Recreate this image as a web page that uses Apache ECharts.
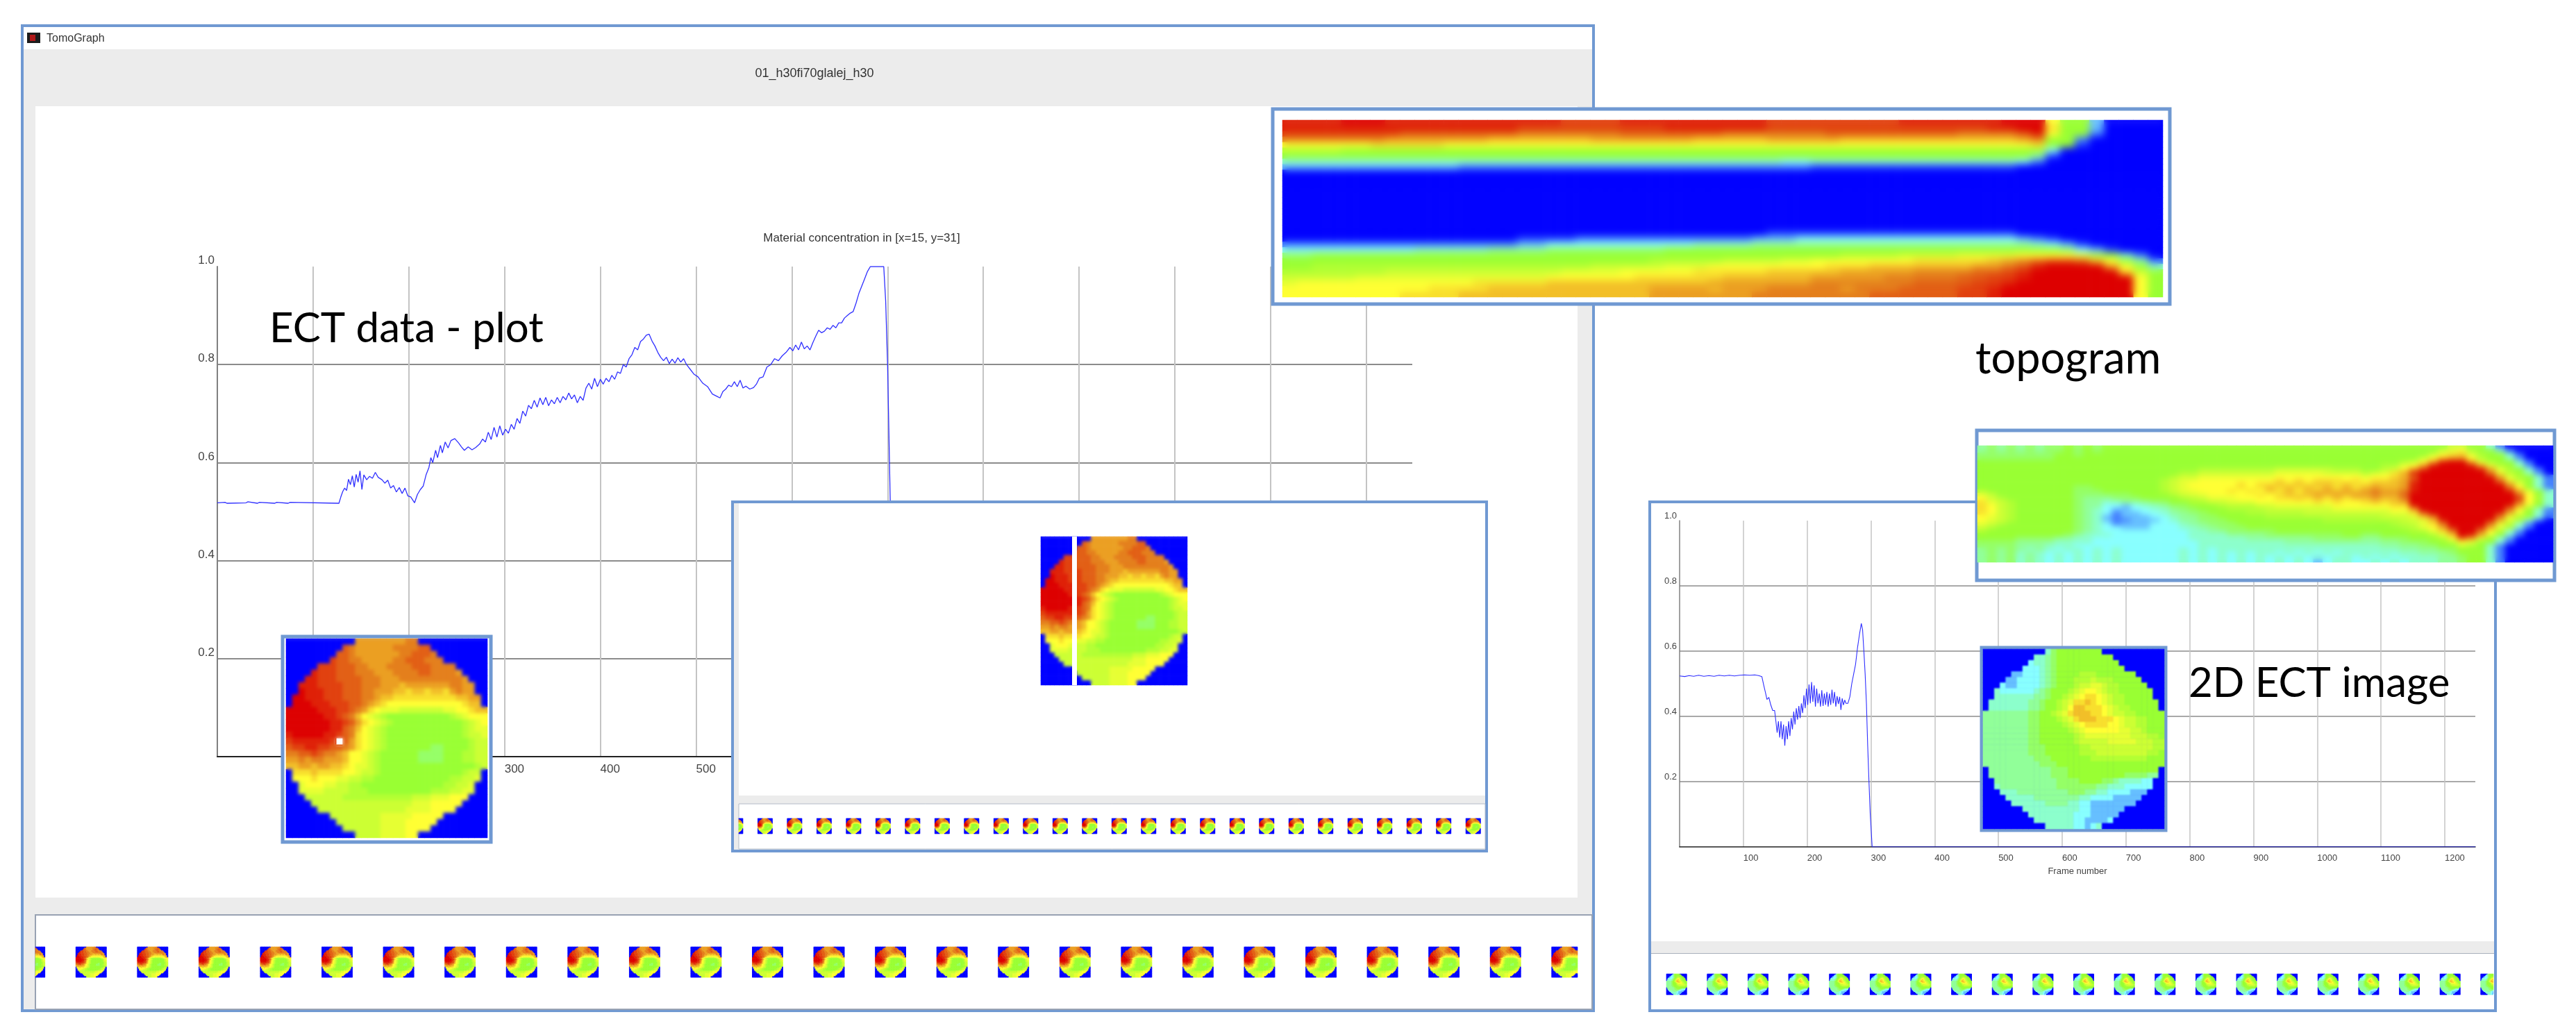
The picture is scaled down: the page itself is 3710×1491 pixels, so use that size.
<!DOCTYPE html>
<html>
<head>
<meta charset="utf-8">
<title>TomoGraph</title>
<style>
  html, body { margin: 0; padding: 0; background: #fff; }
  #main { width: 3710px; height: 1491px; }
  .soft { position: absolute; pointer-events: none; }
</style>
<script src="https://cdn.jsdelivr.net/npm/echarts@6/dist/echarts.min.js"></script>
</head>
<body>
<div id="main"></div>
<script>
// frame number / material concentration
var mainCurve = [[0,.518],[8,.519],[10,.517],[30,.518],[32,.52],[42,.517],[44,.519],[60,.517],[62,.519],[74,.517],[76,.519],[127,.517],
  [129,.53],[131,.541],[133,.548],[135,.543],[137,.566],[139,.555],[141,.573],[143,.55],[145,.576],[147,.56],[149,.583],[151,.545],[153,.575],[156,.565],[159,.572],[162,.568],[165,.58],[168,.57],[172,.565],[175,.558],[178,.564],[181,.548],[184,.553],[187,.54],[190,.549],[193,.537],[196,.548],[199,.532],[202,.53],[206,.518],
  [209,.535],[212,.545],[215,.552],[218,.575],[221,.59],[223,.61],[225,.6],[228,.625],[230,.61],[233,.635],[235,.62],[238,.642],[241,.63],[244,.645],[248,.649],[252,.64],[255,.632],[258,.625],[262,.632],[266,.626],[270,.631],[274,.638],[277,.648],[280,.642],[283,.662],[286,.647],[289,.672],[292,.652],[295,.675],[298,.656],[301,.668],[304,.66],[307,.678],[310,.668],[313,.69],[316,.68],[319,.705],[322,.695],[325,.717],[328,.71],[331,.727],[334,.713],[337,.732],[340,.718],[343,.733],[346,.716],[349,.728],[352,.72],[355,.733],[358,.722],[361,.735],[364,.728],[367,.742],[370,.73],[373,.738],[376,.722],[379,.735],[382,.727],[385,.752],[388,.762],[391,.75],[394,.772],[397,.755],[400,.77],[403,.76],[406,.772],[409,.765],[412,.778],[415,.77],[418,.785],[421,.782],[424,.8],[427,.795],[430,.812],[433,.82],[436,.835],[439,.83],[442,.847],[445,.852],[448,.86],[451,.862],[454,.848],[457,.838],[460,.825],[463,.815],[466,.808],[469,.815],[472,.802],[475,.811],[478,.803],[481,.814],[484,.805],[487,.812],[490,.8],[494,.79],[498,.78],[502,.775],[507,.762],[512,.755],[517,.74],[522,.735],[525,.732],[528,.745],[531,.75],[534,.758],[537,.755],[540,.765],[543,.755],[546,.768],[549,.752],[552,.756],[556,.75],[560,.753],[563,.76],[566,.772],[570,.775],[574,.795],[578,.8],[582,.812],[586,.808],[590,.818],[594,.825],[598,.835],[601,.828],[604,.84],[607,.83],[610,.846],[613,.832],[616,.838],[619,.83],[622,.845],[625,.858],[628,.87],[631,.865],[634,.868],[637,.875],[640,.872],[643,.88],[646,.875],[649,.885],[652,.885],[655,.895],[658,.9],[661,.905],[664,.908],[667,.925],[670,.945],[673,.96],[676,.975],[679,.99],[682,1],[696,1],[698,.93],[700,.8],[702,.6],[704,.4],[708,.1],[712,0],[1248,0]];

var sideCurve = [[0,.524],[8,.522],[15,.525],[22,.523],[30,.526],[38,.523],[46,.525],[54,.523],[62,.526],[70,.524],[78,.526],[86,.524],[94,.526],[102,.527],[110,.526],[118,.527],[124,.525],[129,.522],
  [132,.495],[135,.47],[137,.452],[140,.458],[143,.435],[146,.418],[149,.418],[151,.385],[153,.35],[155,.385],[157,.335],[159,.385],[161,.33],[163,.375],[165,.31],[167,.37],[169,.33],[171,.385],[173,.34],[175,.395],[177,.36],[179,.415],[181,.375],[183,.425],[185,.39],[187,.432],[189,.395],[191,.44],[193,.41],[195,.465],[197,.425],[199,.485],[201,.435],[203,.498],[205,.44],[207,.505],[209,.445],[211,.495],[213,.43],[215,.485],[217,.44],[219,.47],[221,.43],[223,.48],[225,.432],[227,.47],[229,.435],[231,.475],[233,.43],[235,.47],[237,.435],[239,.482],[241,.44],[243,.475],[245,.43],[247,.462],[249,.438],[251,.46],[253,.42],[255,.455],[257,.435],[259,.45],[261,.44],[264,.44],[267,.46],[270,.5],[273,.53],[276,.56],[279,.61],[282,.65],[285,.685],[287,.665],[289,.6],[291,.53],[293,.44],[295,.31],[297,.2],[299,.1],[302,0],[1248,0]];

var yTicks = [0.2, 0.4, 0.6, 0.8, 1.0];
var labels = {
  window: 'TomoGraph',
  file: '01_h30fi70glalej_h30',
  plotTitle: 'Material concentration in [x=15, y=31]',
  xName: 'Frame number',
  plotNote: 'ECT data - plot',
  topoNote: 'topogram',
  imageNote: '2D ECT image'
};

// colour map stops, levels run 0..20 written as 0-9a-k
var levelColors = ['#0000ff', '#88ffff', '#99ff33', '#ffff33', '#e47f1c', '#dd0000'];

// ECT images, 32 x 32, rows hold only the pixels inside the pipe circle
var diskA = [
  'ffffffffgg',
  'hgffffffgggghh',
  'hhgfffffffgghhhg',
  'ihhggfffffgghhhggg',
  'iiihhhggfffgggghhhgggg',
  'jiiihhhgggfffgggghhggggf',
  'jjiiihhhhgggfffggggggggggf',
  'jjjiiiihhhgggfffefffffffggff',
  'kjjjiiihhhggfffeedeedeedfgff',
  'kkjjjiiihhhggfeeddddddddddeeff',
  'kkkjjjiiihhgfedccccccccccccdee',
  'kkkkkjjjiihgfdcbbbaaaaaaabbccdee',
  'kkkkkkjjihgecba988888888889abccc',
  'kkkkkkkjjihfdcba9888888888889abc',
  'kkkkkkkjjhgecba98888888888889abb',
  'jkkkkkjjihgdcba98888888888889aab',
  'ijjjjjjiihfdcba988888888888889aa',
  'hiijjiihhgfdcba98888888778888 9aa',
  'gghhihggfeccba9888888777788899aa',
  'ffgfggfffeccba9888888777788899aa',
  'eeffeffeedcbba98888888888888889a',
  'dddeddddccbaa988888888888889aa',
  'cccdcccbbaa9988888888888899aab',
  'bcccbbaa99888888888888899aab',
  'bbbbaaaa9998888888888999aabb',
  'aaaaaa99999999999aaabbbccc',
  'aaaaaaaaaaaaaaaabbbccccc',
  'aaaaaaaaaaaaaabbbbcccc',
  'aaaaaaaabbbbbccccc',
  'aaaaaaabbbbccccc',
  'aaaaaabbbbcccc',
  'aaaabbbbcc'
];

var diskB = [
  '5788888888',
  '55678888888888',
  '4556788888888888',
  '444567888888888888',
  '3344456788889998888888',
  '334444567888999a99988888',
  '43344445678889aabba9988888',
  '54444445678889abccba99888888',
  '5555555667889abcddcba9988888',
  '5555555667889abddedcba99888888',
  '5555555667889aceedddcba9988888',
  '6666666677889abdeeeddcbaa9988888',
  '66666666778889abdeeedddcbaa99888',
  '666666667788889abcddddccbaa99888',
  '6666666677888889abccccccbbaa9888',
  '66666666778888889abbbbbbbbaaa998',
  '66666666778888889aaaaabbbbbaaa99',
  '6666666677788888899aaaaaaaaaaa99',
  '66666666777888888999aaaaaaaaa998',
  '66666666677788888889999999999888',
  '66666666667778888888888888888888',
  '666666666667778888888888888888',
  '666666666667778888888888777766',
  '6666666666677778888776555544',
  '5666666666677777776655544444',
  '55566666666677766554444333',
  '555556666666655444433333',
  '5555556666554433333333',
  '555555555544333333',
  '5555555544433333',
  '55555554433334',
  '5555544345'
];

// topograms: one image line per frame, 32 rows x 60 time steps
var topoA = [
  'jjjjkkkjjj jjjjjjjjji iiijjjjjjj jjjiiiiiii iijjjjjjjk kkc8830000',
  'jjjjjjjjjj jjjjjjiiii iiiiiijjjj jjjiiiiiii iiiiiiiijj kkd8830000',
  'iiiiiiiihh hhhhhhgggg ggghhhhhhh ggggggghhh hhhhhhgggg hjc8820000',
  'gggggggfff ffffeeeeee efffffffee eeefffffee eeeeeeeeee fg88200000',
  'ccccccdddd dccccccccc cccccccccc cccccccccc cccccccccc cd88100000',
  '9999888888 8888888888 8888888888 8888888888 8888888888 8840000000',
  '8888888888 8888888888 8888888888 8888888888 8888888888 8610000000',
  '5555555555 5555555555 5555555555 5555445555 5555555555 4200000000',
  '3333333333 3322222222 2222222222 2222221111 1111111111 0000000000',
  '0000000000 0000000000 0000000000 0000000000 0000000000 0000000000',
  '0000000000 0000000000 0000000000 0000000000 0000000000 0000000000',
  '0000000000 0000000000 0000000000 0000000000 0000000000 0000000000',
  '0000000000 0000000000 0000000000 0000000000 0000000000 0000000000',
  '0000000000 0000000000 0000000000 0000000000 0000000000 0000000000',
  '0000000000 0000000000 0000000000 0000000000 0000000000 0000000000',
  '0000000000 0000000000 0000000000 0000000000 0000000000 0000000000',
  '0000000000 0000000000 0000000000 0000000000 0000000000 0000000000',
  '0000000000 0000000000 0000000000 0000000000 0000000000 0000000000',
  '0000000000 0000000000 0000000000 0000000000 0000000000 0000000000',
  '0000000000 0000000000 0000000000 0000000000 0000000000 0000000000',
  '0000000000 0000000000 0000000000 0001111111 1111111111 0000000000',
  '0000000000 0000001111 2222222222 2233344444 4444444444 3210000000',
  '2222222222 2222223344 4444444455 5566666666 6666666666 6543100000',
  '4444444445 5555666677 7777778888 8888888888 8888888888 8887431000',
  '7788888888 8888888888 8888888888 8888888899 99aaaabbbb ccccb98520',
  '8888888888 8888888888 8888899999 aaaabbcccc cccdddddef ghiihec862',
  '8899999999 9999999999 9aaaaabbbc cccccccddd eeeeeeeffg hjkkkkfc85',
  '9999999aaa aaaaaaaaab bbbcccccdd dddeeeeeff fffgggghhi jkkkkkkda8',
  'aaaaabbbbb bbbbbbbbcc ccccdddddd eeeeeeffff fggggghhii jkkkkkkkc8',
  'bccccccccc cccdddddee eeeeeeeeef ffffffgggg ggghhhhiij kkkkkkkkc8',
  'cccccccccc ddddeeeeee eeeeeffffe fffgggggfg gghhhhiijk kkkkkkkkc8',
  'ccccccccdd ddeeeeeeee eeeeefffff ffgggggggg hhhhhhiijk kkkkkkkkc8'
];

var topoB = [
  '6767676778 7878888888 8888888888 8888888888 888888888a a885200000',
  '6767676778 7878888888 8888888888 8888888888 88888888ab c988520000',
  '7777777788 7888888888 8888888888 8888888888 8888888acd eb98852000',
  '7777777788 8888888888 8888888888 8888888888 888888acef fc98852000',
  '8888888888 8888888888 8888888888 8888888888 88889acfjk kfb9885200',
  '8888888888 8888888888 8888888888 8888888888 8899bcfjkk kjfb985200',
  '8888888888 8888888888 8889999999 9aaaaaa999 889acfikkk kkjfb98520',
  '8888888888 8888888888 899aaaaaaa abbbbbaaaa 9abdfjkkkk kkkgb98520',
  '8888888888 8888888888 9aabbbbbbb bccccccccc bccdehkkkk kkkjfb9852',
  '8888888888 8888888889 abbccccccc cdcdcdddcd cddefikkkk kkkkgb9852',
  '8888888888 8888888889 abcccccdcd dededeeded deeefjkkkk kkkkjfb852',
  '8888888888 7788888889 abcccccdcd ededededed efeefjkkkk kkkkkgc852',
  '9888888888 7778888889 abbcccdcdc ededeefefe fgffgjkkkk kkkkkjfb85',
  'ba88888888 7777778888 9abbcccccd cdedefefef fgffhkkkkk kkkkkkgc85',
  'ca98888888 7666777888 899abbbccc cddededede efeegkkkkk kkkkkkjc95',
  'dba9888888 7665566677 8899aabbbc cccccdcdcc dedefkkkkk kkkkkkgc85',
  'dca9888888 7664434556 778889999a abbbbbbccc cccddjkkkk kkkkkjfb85',
  'dca9888888 7654334455 6778889999 aaaaaaabbb bbbccfkkkk kkkkkgc852',
  'dca9888888 7654233445 6677888899 9999aaaaaa aaabbdhkkk kkkkjfb852',
  'cba9888888 7653233344 5667788888 9999999999 99aaabegkk kkkkgb9852',
  'cba9888888 7653223334 5667778888 8888889999 9999aabejk kkkjfb9520',
  'ba98888888 7654233344 4566777888 8888888888 88899abdgk kkkgb95200',
  'a988888888 7654433344 4556677788 8888888888 888899bcfj kkjfb95200',
  '9888888888 7654444444 4455667777 7888888888 8888899bdg kkgc952000',
  '8888888887 6555444444 4455556666 7777777788 77888889be kjfb852000',
  '8888777766 5544444444 4455555566 6666677777 667778889c hfb8520000',
  '7777666655 5544444444 4445555555 5566666666 6666777889 cb88520000',
  '7777666555 4444444444 4445555555 5555555555 5566667788 a985200000',
  '6767656545 5454544444 4545455555 5555555555 5555666677 8885200000',
  '6767565454 5454544444 4545454545 5454545455 5555556667 8885200000',
  '6767565454 5454544444 4545454545 4545454554 5454555566 7885200000',
  '6767565454 5454544444 4545454545 4545434554 4545455566 7885200000'
];

var markerCell = [8, 16]; // picked pixel of the large image

var frameBlue = '#7099d2';
var bandGrey = '#ececec';
var narrowFont = '"Liberation Sans Narrow", "Liberation Sans", sans-serif';
var noteFont = 'Lato, "Open Sans", sans-serif';

// level char -> number
function decodeRow(str) {
  return str.replace(/ /g, '').split('').map(function(c) { return parseInt(c, 36); });
}

// pad a disk row with blue corners
function diskMatrix(rows) {
  return rows.map(function(r) {
    var body = decodeRow(r);
    var left = Math.floor((32 - body.length) / 2);
    var row = [];
    for (var i = 0; i < 32; i++) {
      var v = body[i - left];
      row.push(v === undefined ? 0 : v);
    }
    return row;
  });
}

function range(n) {
  var a = [];
  for (var i = 0; i < n; i++) a.push(String(i));
  return a;
}

var grids = [], xAxes = [], yAxes = [], series = [], heatIndex = [];

function plotAxes(left, top, width, height, fontSize, lineW) {
  var idx = grids.length;
  grids.push({ left: left, top: top, width: width, height: height, z: 1 });
  xAxes.push({
    gridIndex: idx, type: 'value', min: 0, max: 1248, interval: 100, z: 1,
    name: labels.xName, nameLocation: 'middle', nameGap: fontSize + 16,
    nameTextStyle: { color: '#444', fontFamily: narrowFont, fontSize: fontSize },
    axisLine: { show: true, onZero: false, lineStyle: { color: '#222', width: lineW } },
    axisTick: { show: false },
    axisLabel: {
      color: '#444', fontFamily: narrowFont, fontSize: fontSize, align: 'left', margin: 10,
      showMinLabel: false, showMaxLabel: false, hideOverlap: false,
      formatter: function(v) { return String(v); }
    },
    splitLine: { show: true, showMinLine: false, showMaxLine: false, lineStyle: { color: '#c4c4c4', width: lineW } }
  });
  yAxes.push({
    gridIndex: idx, type: 'value', min: 0, max: 1, interval: 0.2, z: 1,
    axisLine: { show: true, onZero: false, lineStyle: { color: '#808080', width: lineW } },
    axisTick: { show: false },
    axisLabel: {
      color: '#444', fontFamily: narrowFont, fontSize: fontSize, margin: 4, verticalAlign: 'bottom',
      formatter: function(v) { return yTicks.indexOf(+v.toFixed(1)) < 0 ? '' : v.toFixed(1); }
    },
    splitLine: { show: true, showMinLine: false, showMaxLine: false, lineStyle: { color: '#8c8c8c', width: lineW } }
  });
  return idx;
}

function lineSeries(idx, curve, width) {
  series.push({
    type: 'line', xAxisIndex: idx, yAxisIndex: idx, data: curve, z: 2,
    showSymbol: false, silent: true, animation: false,
    lineStyle: { color: '#2f2fff', width: width }
  });
}

function heatSeries(rect, cols, rows, data) {
  var idx = grids.length;
  grids.push({ left: rect[0], top: rect[1], width: rect[2], height: rect[3], z: 6 });
  xAxes.push({ gridIndex: idx, type: 'category', data: range(cols), show: false, z: 6 });
  yAxes.push({ gridIndex: idx, type: 'category', data: range(rows), show: false, inverse: true, z: 6 });
  heatIndex.push(series.length);
  series.push({
    type: 'heatmap', xAxisIndex: idx, yAxisIndex: idx, data: data, z: 6,
    silent: true, animation: false, progressive: 0
  });
  return idx;
}

function matrixCells(m) {
  var data = [];
  m.forEach(function(row, y) {
    row.forEach(function(v, x) { data.push([x, y, v]); });
  });
  return data;
}

// row of small thumbnails, one image every 64 cells
function stripCells(m, cols, skip) {
  var data = [];
  for (var i = 0; i * 64 - skip < cols; i++) {
    m.forEach(function(row, y) {
      row.forEach(function(v, x) {
        var c = i * 64 + x - skip;
        if (c >= 0 && c < cols) data.push([c, y, v]);
      });
    });
  }
  return data;
}

var matA = diskMatrix(diskA);
var matB = diskMatrix(diskB);

// plots
lineSeries(plotAxes(313, 384, 1721, 706, 17, 2), mainCurve, 1.3);
lineSeries(plotAxes(2419, 750, 1146, 470, 13, 1.5), sideCurve, 1.1);

// heat images
heatSeries([1847, 173, 1268, 255], 60, 32, matrixCells(topoA.map(decodeRow)));
heatSeries([2848, 642, 829, 168], 60, 32, matrixCells(topoB.map(decodeRow)));
var largeIdx = heatSeries([412, 920, 290, 287], 32, 32, matrixCells(matA));
heatSeries([1499, 773, 211, 214], 32, 32, matrixCells(matA));
heatSeries([2856, 935, 261, 259], 32, 32, matrixCells(matB));
heatSeries([51, 1364, 2221, 44], 1605, 32, stripCells(matA, 1605, 22));
heatSeries([1064, 1179, 1073, 22], 1616, 32, stripCells(matA, 1616, 23));
heatSeries([2400, 1403, 1191, 30], 1300, 32, stripCells(matB, 1300, 0));

series.push({
  type: 'scatter', xAxisIndex: largeIdx, yAxisIndex: largeIdx, data: [markerCell], z: 7,
  symbol: 'rect', symbolSize: 9, silent: true, animation: false,
  itemStyle: { color: '#fff', opacity: 1 }
});

function box(x, y, w, h, fill, stroke, lw, z) {
  return {
    type: 'rect', shape: { x: x, y: y, width: w, height: h }, z: z, silent: true,
    style: { fill: fill, stroke: stroke || null, lineWidth: lw || 0 }
  };
}

function text(str, x, y, font, color, align, z) {
  return {
    type: 'text', z: z, silent: true,
    style: { text: str, x: x, y: y, font: font, fill: color, align: align, verticalAlign: 'middle' }
  };
}

var shapes = [
  // left window
  box(32, 37, 2263, 1419, '#fff', frameBlue, 4, 0),
  box(34, 71, 2259, 1383, bandGrey, null, 0, 0),
  box(51, 153, 2221, 1140, '#fff', null, 0, 0),
  box(51, 1318, 2242, 136, '#fff', '#98a2b3', 2, 0),
  box(39, 47, 19, 15, '#1c1c1c', null, 0, 0),
  box(43, 50, 8, 9, '#b01818', null, 0, 0),
  text(labels.window, 67, 56, '16px ' + narrowFont, '#333', 'left', 1),
  text(labels.file, 1173, 106, '18px ' + narrowFont, '#333', 'center', 1),
  text(labels.plotTitle, 1241, 343, '17px ' + narrowFont, '#333', 'center', 1),
  text(labels.plotNote, 388, 474, '60px ' + noteFont, '#000', 'left', 3),
  // right window
  box(2376, 723, 3594 - 2376, 733, '#fff', frameBlue, 4, 0),
  box(2378, 1356, 1214, 17, bandGrey, null, 0, 0),
  box(2378, 1373, 1214, 1, '#a8b0bc', null, 0, 0),
  text(labels.topoNote, 2845, 518, '63px ' + noteFont, '#000', 'left', 3),
  text(labels.imageNote, 3152, 985, '60px ' + noteFont, '#000', 'left', 3),
  // top level panels
  box(1833, 157, 1292, 281, '#fff', frameBlue, 5, 5),
  box(2847, 620, 832, 216, '#fff', frameBlue, 5, 5),
  box(407, 917, 300, 296, '#fff', frameBlue, 5, 5),
  box(2854, 933, 265, 263, '#0000ff', frameBlue, 5, 5),
  box(1055, 723, 1086, 503, bandGrey, frameBlue, 4, 5),
  box(1064, 725, 1075, 421, '#fff', null, 0, 5),
  box(1064, 1158, 1075, 65, '#fff', '#b4bcc8', 1, 5),
  box(1544, 773, 7, 214, '#fff', null, 0, 8)
];

var myChart = echarts.init(document.getElementById('main'), null, { renderer: 'canvas' });
myChart.setOption({
  animation: false,
  backgroundColor: '#fff',
  grid: grids,
  xAxis: xAxes,
  yAxis: yAxes,
  visualMap: {
    type: 'continuous', show: false, min: 0, max: 20, dimension: 2,
    seriesIndex: heatIndex,
    inRange: { color: levelColors }
  },
  graphic: { elements: shapes },
  series: series
});

// the source images are resampled, soften the cells the same way
function soften(x, y, w, h, blur, clip) {
  var d = document.createElement('div');
  d.className = 'soft';
  d.style.cssText = 'left:' + x + 'px;top:' + y + 'px;width:' + w + 'px;height:' + h + 'px;' +
    'backdrop-filter:blur(' + blur + 'px);' + (clip ? 'clip-path:' + clip + ';' : '');
  document.body.appendChild(d);
}
soften(1847, 173, 1268, 255, 6);
soften(2848, 642, 829, 168, 4);
soften(412, 920, 290, 287, 2.5,
  'polygon(evenodd,0 0,290px 0,290px 287px,0 287px,0 0,71px 143px,82px 143px,82px 154px,71px 154px,71px 143px)');
soften(1499, 773, 45, 214, 2);
soften(1551, 773, 159, 214, 2);
soften(2856, 935, 261, 259, 1);
soften(51, 1364, 2221, 44, 0.6);
soften(1064, 1179, 1073, 22, 0.5);
soften(2400, 1403, 1191, 30, 0.5);
</script>
</body>
</html>
